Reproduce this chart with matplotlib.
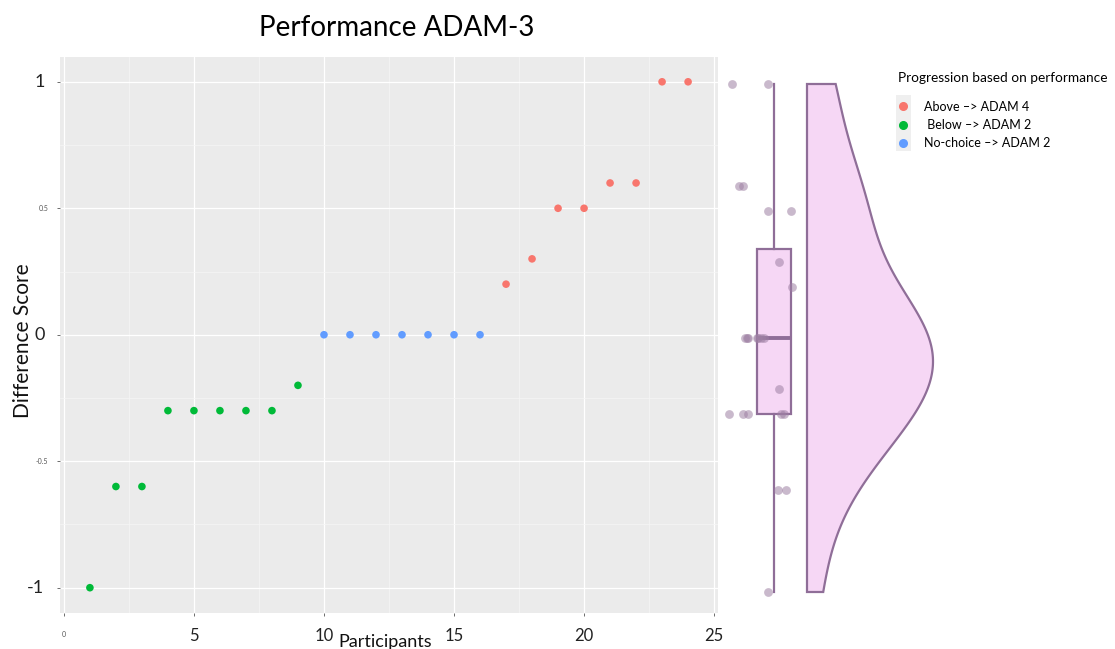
import numpy as np
import matplotlib
matplotlib.use("Agg")
import matplotlib.pyplot as plt
from matplotlib.lines import Line2D
from matplotlib.patches import Rectangle

plt.rcParams['font.family'] = ['Lato', 'DejaVu Sans']

# --- data ---
participants = list(range(1, 25))
diff_score = [-1, -0.6, -0.6, -0.3, -0.3, -0.3, -0.3, -0.3, -0.2,
              0, 0, 0, 0, 0, 0, 0,
              0.2, 0.3, 0.5, 0.5, 0.6, 0.6, 1, 1]
groups = ['Below'] * 9 + ['No-choice'] * 7 + ['Above'] * 8

group_labels = ['Above –> ADAM 4', ' Below –> ADAM 2', 'No-choice –> ADAM 2']
group_keys = ['Above', 'Below', 'No-choice']
group_colors = {'Above': '#F8766D', 'Below': '#00BA38', 'No-choice': '#619CFF'}

x_ticks = [0, 5, 10, 15, 20, 25]
y_ticks = [-1, -0.5, 0, 0.5, 1]

W, H = 1115, 649
fig = plt.figure(figsize=(W / 100, H / 100), dpi=100)

def px_axes(left, top, right, bottom):
    return fig.add_axes([left / W, 1 - bottom / H, (right - left) / W, (bottom - top) / H])

# --- left scatter panel (ggplot look) ---
ax = px_axes(60, 56.5, 718, 613)
ax.set_facecolor('#EBEBEB')
for s in ax.spines.values():
    s.set_visible(False)
ax.set_xlim(-0.15, 25.15)
ax.set_ylim(-1.1, 1.1)
ax.set_xticks(x_ticks)
ax.set_yticks(y_ticks)
ax.set_xticks([2.5, 7.5, 12.5, 17.5, 22.5], minor=True)
ax.set_yticks([-0.75, -0.25, 0.25, 0.75], minor=True)
ax.grid(which='major', color='white', lw=0.9)
ax.grid(which='minor', color='#F6F6F6', lw=0.5)
ax.set_axisbelow(True)
ax.tick_params(which='major', length=2.5, color='#555555', width=0.6, pad=2)
ax.tick_params(which='minor', length=0)

cols = [group_colors[g] for g in groups]
ax.scatter(participants, diff_score, c=cols, s=30, linewidths=0, zorder=3)

# mixed label sizes as in the original
ax.set_xticklabels([])
ax.set_yticklabels([])
for xt in x_ticks:
    if xt == 0:
        ax.text(xt, -1.17, '0', fontsize=5, color='#555555', ha='center', va='top',
                clip_on=False)
    else:
        ax.text(xt, -1.16, str(xt), fontsize=12, color='#222222', ha='center', va='top',
                clip_on=False)
for yt in y_ticks:
    if abs(yt) == 0.5:
        ax.text(-0.6, yt, str(yt), fontsize=5, color='#555555', ha='right', va='center',
                clip_on=False)
    else:
        ax.text(-0.75, yt, '%d' % yt, fontsize=13, color='#222222', ha='right', va='center',
                clip_on=False)

fig.text(23 / W, 1 - 341 / H, 'Difference Score', fontsize=15, rotation=90,
         ha='center', va='center', color='#111111')
fig.text(385 / W, 1 - 642 / H, 'Participants', fontsize=13, ha='center', va='center',
         color='#111111')
fig.text(397 / W, 1 - 28 / H, 'Performance ADAM-3', fontsize=20, ha='center', va='center',
         color='black')

# --- right raincloud panel ---
rx = px_axes(720, 58.6, 960, 617.4)
rx.set_xlim(0, 240)
rx.set_ylim(-1.1, 1.1)
rx.axis('off')

fill_c = '#F6D7F5'
edge_c = '#8F6E98'
pt_c = '#9E80A3'

# jittered points
rng = np.random.default_rng(7)
jit = rng.uniform(9, 72, len(diff_score))
rx.scatter(jit, diff_score, s=40, color=pt_c, alpha=0.55, linewidths=0, zorder=4)

# boxplot
rx.boxplot([diff_score], positions=[54], widths=34, patch_artist=True, whis=1.5,
           showcaps=False, showfliers=False, manage_ticks=False,
           boxprops=dict(facecolor=fill_c, edgecolor=edge_c, lw=1.6),
           whiskerprops=dict(color=edge_c, lw=1.6),
           medianprops=dict(color=edge_c, lw=2.8), zorder=3)

# half violin from a gaussian kde of the scores (R's nrd0 bandwidth, trimmed)
vals = np.array(diff_score, dtype=float)
q75, q25 = np.percentile(vals, [75, 25])
bw = 0.9 * min(vals.std(ddof=1), (q75 - q25) / 1.34) * len(vals) ** -0.2
yy = np.linspace(vals.min(), vals.max(), 300)
dens = np.exp(-0.5 * ((yy[:, None] - vals[None, :]) / bw) ** 2).sum(axis=1)
dens = dens / dens.max() * 126
base = 87
xs = np.concatenate([[base], base + dens, [base]])
ys = np.concatenate([[yy[0]], yy, [yy[-1]]])
rx.fill(xs, ys, facecolor=fill_c, edgecolor=edge_c, lw=1.6, zorder=2)

# legend (grey key background like ggplot)
fig.patches.append(Rectangle((896 / W, 1 - 151 / H), 15 / W, 56 / H,
                             transform=fig.transFigure, facecolor='#EFEFEF',
                             edgecolor='none', zorder=0))
handles = [Line2D([], [], marker='o', ls='', ms=5.5, color=group_colors[k]) for k in group_keys]
leg = fig.legend(handles, group_labels, title='Progression based on performance',
                 loc='upper left', bbox_to_anchor=(898 / W, 1 - 72 / H), frameon=False,
                 fontsize=9, title_fontsize=9.8, handlelength=0.8, handletextpad=1.3,
                 labelspacing=0.5, borderaxespad=0, borderpad=0)
leg._legend_box.align = 'left'
leg._legend_box.sep = 12

fig.savefig('out.png', dpi=100)
